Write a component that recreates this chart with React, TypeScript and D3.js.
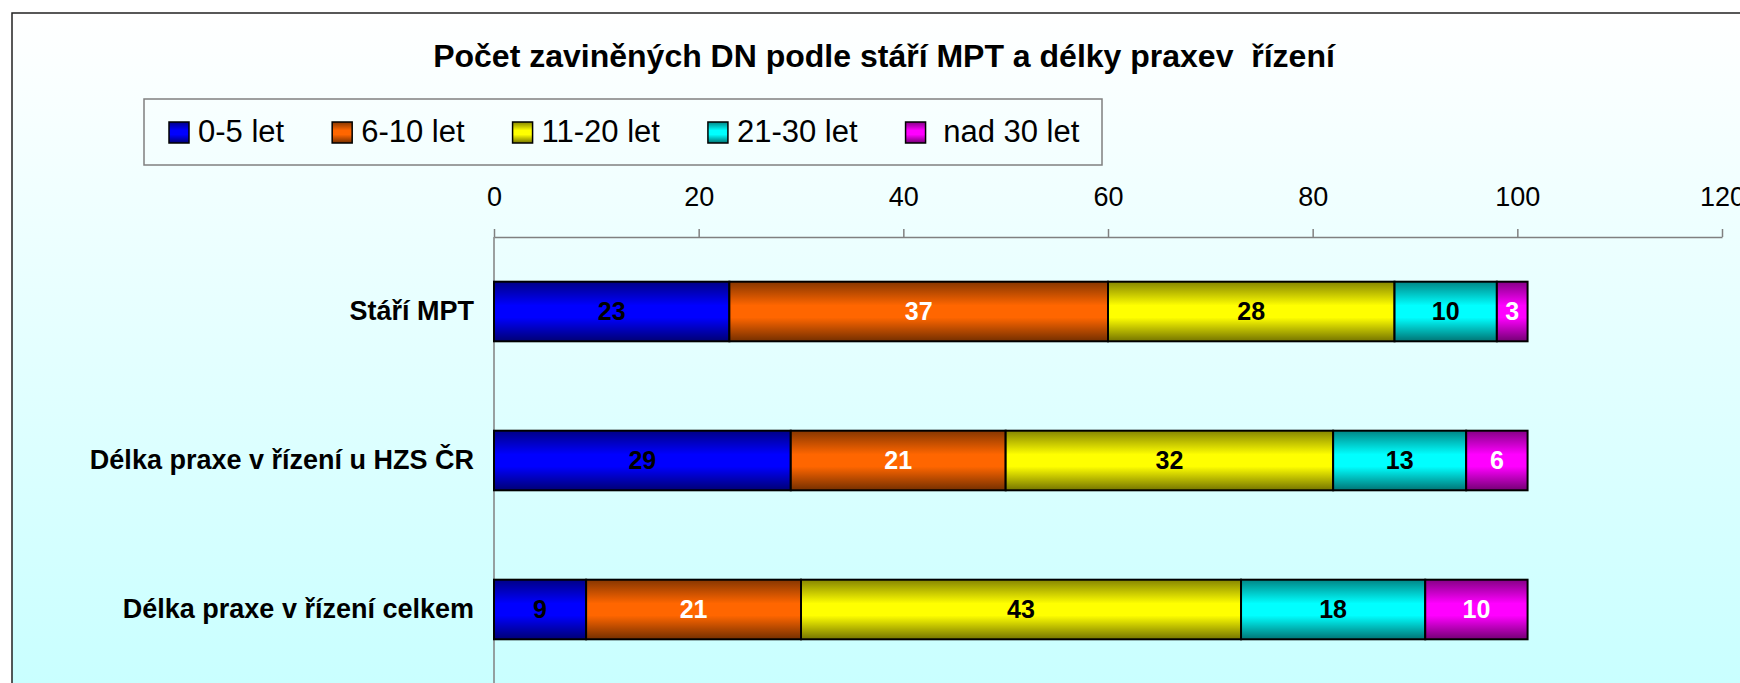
import React, { useEffect, useRef } from 'react';
import * as d3 from 'd3';

// data
const categories = ['Stáří MPT', 'Délka praxe v řízení u HZS ČR', 'Délka praxe v řízení celkem'];
const seriesNames = ['0-5 let', '6-10 let', '11-20 let', '21-30 let', ' nad 30 let'];
const let0_5 = [23, 29, 9];
const let6_10 = [37, 21, 21];
const let11_20 = [28, 32, 43];
const let21_30 = [10, 13, 18];
const nad30 = [3, 6, 10];
const xTicks = [0, 20, 40, 60, 80, 100, 120];
const title = 'Počet zaviněných DN podle stáří MPT a délky praxev  řízení';

// styles
const colors = ['#0000ff', '#ff6600', '#ffff00', '#00ffff', '#ff00ff'];
const labelColors = ['#000', '#fff', '#000', '#000', '#fff'];
const font = '"Liberation Sans", Arial, sans-serif';

const W = 1740, H = 683;

export default function App() {
  const ref = useRef<SVGSVGElement>(null);

  useEffect(() => {
    document.body.style.margin = '0';
    document.body.style.overflow = 'hidden';

    const svg = d3.select(ref.current);
    svg.selectAll('*').remove();

    const defs = svg.append('defs');
    const bg = defs.append('linearGradient').attr('id', 'bg')
      .attr('x1', 0).attr('y1', 0).attr('x2', 0).attr('y2', 1);
    bg.append('stop').attr('offset', 0).attr('stop-color', '#ffffff');
    bg.append('stop').attr('offset', 1).attr('stop-color', '#c8ffff');

    // bar fills: dark at top and bottom, bright in the middle
    colors.forEach((c, i) => {
      const g = defs.append('linearGradient').attr('id', 'fill' + i)
        .attr('x1', 0).attr('y1', 0).attr('x2', 0).attr('y2', 1);
      g.append('stop').attr('offset', 0).attr('stop-color', d3.color(c)!.darker(1.8).toString());
      g.append('stop').attr('offset', 0.4).attr('stop-color', c);
      g.append('stop').attr('offset', 0.6).attr('stop-color', c);
      g.append('stop').attr('offset', 1).attr('stop-color', d3.color(c)!.darker(2.2).toString());
    });

    // chart area
    svg.append('rect')
      .attr('x', 12).attr('y', 13).attr('width', W).attr('height', H)
      .attr('fill', 'url(#bg)').attr('stroke', '#222').attr('stroke-width', 1.5);

    // title
    svg.append('text')
      .attr('x', 884).attr('y', 67)
      .attr('text-anchor', 'middle')
      .attr('xml:space', 'preserve')
      .attr('font-family', font).attr('font-weight', 'bold').attr('font-size', 32)
      .text(title);

    // legend
    svg.append('rect')
      .attr('x', 144).attr('y', 99).attr('width', 958).attr('height', 66)
      .attr('fill', 'none').attr('stroke', '#808080').attr('stroke-width', 1.5);

    let lx = 169;
    seriesNames.forEach((name, i) => {
      svg.append('rect')
        .attr('x', lx).attr('y', 122).attr('width', 20).attr('height', 21)
        .attr('fill', 'url(#fill' + i + ')').attr('stroke', '#000').attr('stroke-width', 1.5);
      const t = svg.append('text')
        .attr('x', lx + 29).attr('y', 142)
        .attr('xml:space', 'preserve')
        .attr('font-family', font).attr('font-size', 31)
        .text(name);
      const w = (t.node() as SVGTextElement).getComputedTextLength();
      lx += 29 + w + 48;
    });

    // scales
    const x = d3.scaleLinear().domain([0, 120]).range([494, 1722]);
    const y = d3.scaleBand().domain(categories).range([237, 684])
      .paddingInner(0.6).paddingOuter(0.3);

    // top axis
    const axis = svg.append('g')
      .attr('transform', 'translate(0,237)')
      .call(d3.axisTop(x).tickValues(xTicks).tickSize(8).tickSizeOuter(0).tickPadding(23));
    axis.attr('font-family', font).attr('font-size', 27);
    axis.select('.domain').attr('stroke', '#808080').attr('stroke-width', 1.5);
    axis.selectAll('.tick line').attr('stroke', '#808080').attr('stroke-width', 1.5);
    axis.selectAll('.tick text').attr('fill', '#000');

    // category axis line
    svg.append('line')
      .attr('x1', x(0)).attr('x2', x(0)).attr('y1', 237).attr('y2', 684)
      .attr('stroke', '#808080').attr('stroke-width', 1.5);

    // stacked bars
    const keys = ['a', 'b', 'c', 'd', 'e'];
    const rows = categories.map((cat, j) => ({
      cat,
      a: let0_5[j], b: let6_10[j], c: let11_20[j], d: let21_30[j], e: nad30[j]
    }));
    const series = d3.stack<any>().keys(keys)(rows);

    const layers = svg.append('g').selectAll('g')
      .data(series)
      .enter().append('g');

    layers.selectAll('rect')
      .data(d => d)
      .enter().append('rect')
      .attr('x', d => x(d[0]))
      .attr('y', d => y(d.data.cat)!)
      .attr('width', d => x(d[1]) - x(d[0]))
      .attr('height', y.bandwidth())
      .attr('fill', function () {
        const i = (d3.select(this.parentNode as any).datum() as any).index;
        return 'url(#fill' + i + ')';
      })
      .attr('stroke', '#000').attr('stroke-width', 2);

    layers.each(function (s: any) {
      d3.select(this).selectAll('text')
        .data(s)
        .enter().append('text')
        .attr('x', (d: any) => (x(d[0]) + x(d[1])) / 2)
        .attr('y', (d: any) => y(d.data.cat)! + y.bandwidth() / 2 + 8)
        .attr('text-anchor', 'middle')
        .attr('font-family', font).attr('font-weight', 'bold').attr('font-size', 25)
        .attr('fill', labelColors[s.index])
        .text((d: any) => d[1] - d[0]);
    });

    // category labels
    svg.append('g').selectAll('text')
      .data(categories)
      .enter().append('text')
      .attr('x', 474)
      .attr('y', d => y(d)! + y.bandwidth() / 2 + 8)
      .attr('text-anchor', 'end')
      .attr('font-family', font).attr('font-weight', 'bold').attr('font-size', 27)
      .text(d => d);
  }, []);

  return <svg ref={ref} width={W} height={H} style={{ display: 'block', background: '#fff' }} />;
}
